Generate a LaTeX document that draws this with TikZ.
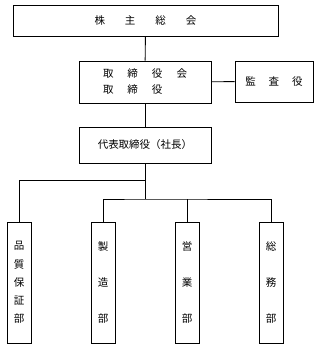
\documentclass[tikz,border=0pt]{standalone}
\usepackage{fontspec}
\newfontfamily\jpfont{Noto Sans CJK JP}
\usepackage{tikz}
\usetikzlibrary{positioning,calc}
\tikzstyle{orgbox} = [draw, line width=0.9pt, inner sep=0pt, align=center, font=\jpfont\fontsize{10.5}{14}\selectfont]
\tikzstyle{deptbox} = [orgbox, minimum width=24pt, minimum height=121pt, font=\jpfont\fontsize{10.5}{18.2}\selectfont]
\tikzstyle{link} = [line width=0.9pt]

\begin{document}
\begin{tikzpicture}[x=1pt, y=-1pt]
			\useasboundingbox (0,0) rectangle (319,349);
			\node[orgbox, minimum width=265pt, minimum height=31pt] (meeting) at (145.5,20.5) {株\hspace{20pt}主\hspace{20pt}総\hspace{20pt}会};
			\node[orgbox, minimum width=132pt, minimum height=42pt, align=left] (board) at (145,82) {取\hspace{14pt}締\hspace{14pt}役\hspace{14pt}会\\[2pt]取\hspace{14pt}締\hspace{14pt}役};
			\node[orgbox, minimum width=78pt, minimum height=41pt] (audit) at (274,81.5) {監\hspace{13pt}査\hspace{13pt}役};
			\node[orgbox, minimum width=132pt, minimum height=36pt] (pres) at (145,145) {代表取締役（社長）};
			
			\node[deptbox] (qa) at (19,282.5) {品\\質\\保\\証\\部};
			\node[deptbox] (mfg) at (103,282.5) {製\\[18.2pt]造\\[18.2pt]部};
			\node[deptbox] (sales) at (187,282.5) {営\\[18.2pt]業\\[18.2pt]部};
			\node[deptbox] (admin) at (271,282.5) {総\\[18.2pt]務\\[18.2pt]部};
			
			\coordinate (split1) at (145,180);
			\coordinate (split2) at (145,199);
			
			\draw[link] (meeting) -- (board);
			\draw[link] (board) -- (audit);
			\draw[link] (board) -- (pres);
			\draw[link] (pres) -- (split2);
			\draw[link] (split1) -| (qa);
			\draw[link] (mfg) |- (split2) -| (admin);
			\draw[link] (sales) -- (sales |- split2);
		\end{tikzpicture}
\end{document}
